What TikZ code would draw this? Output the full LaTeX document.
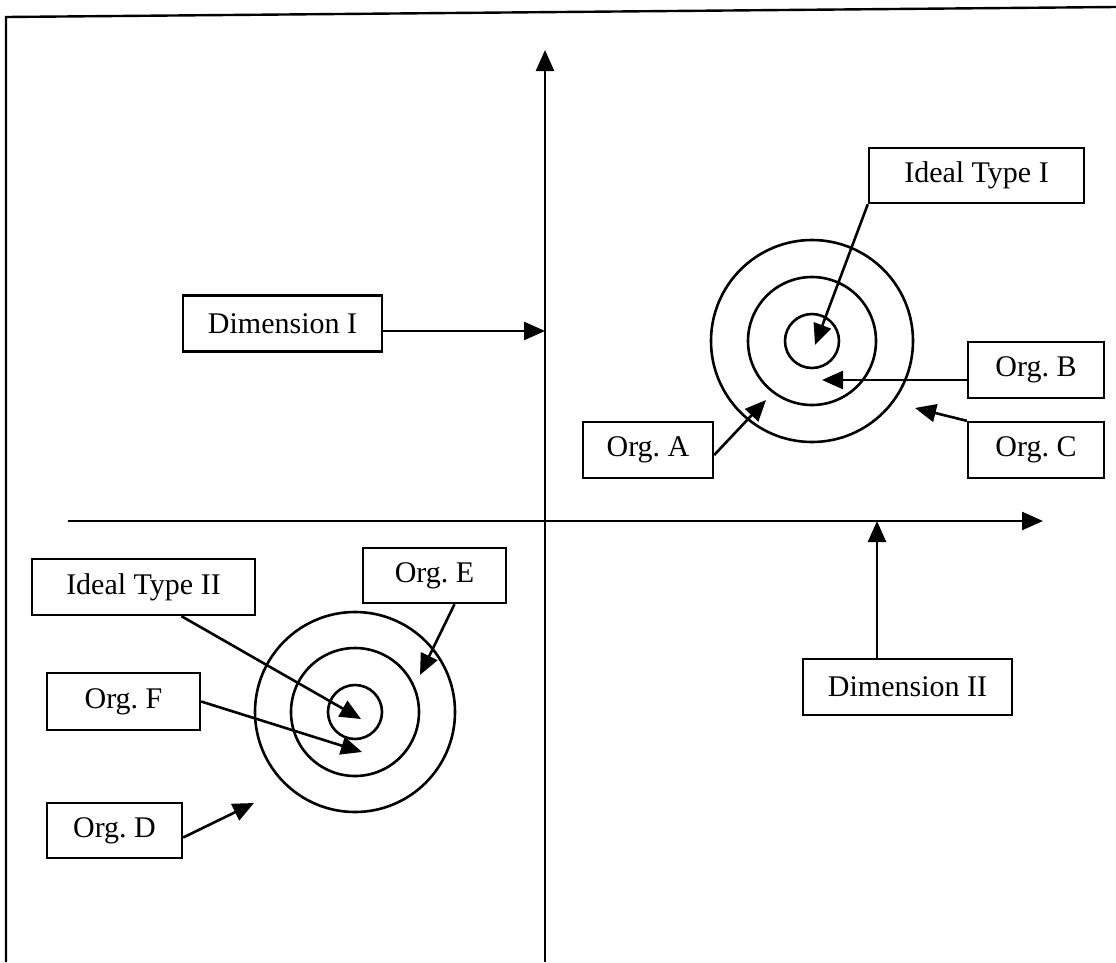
\documentclass[tikz,border=0pt]{standalone}
\usepackage{fontspec}
\setmainfont{Liberation Serif}
\usetikzlibrary{arrows.meta}

\tikzset{
  lbl/.style={draw, line width=2.4pt, inner sep=0pt, minimum height=56pt, font=\fontsize{30}{36}\selectfont},
  ring/.style={draw, circle, line width=2.6pt, inner sep=0pt},
  pointer/.style={line width=2.6pt, -{Triangle[length=21pt,width=18pt]}}
}

\begin{document}
\frenchspacing
\begin{tikzpicture}[x=1pt,y=-1pt]
   \useasboundingbox (0,0) rectangle (1116,962);
   % frame
   \draw[line width=2.4pt] (6,962) -- (6,17) -- (1116,7);

   % axes
   \coordinate (vbot) at (545,962);
   \coordinate (vtop) at (545,50);
   \coordinate (hleft) at (68,521);
   \coordinate (hright) at (1043,521);
   \draw[pointer] (vbot) -- (vtop);
   \draw[pointer] (hleft) -- (hright);

   % target of ideal type I
   \node[ring, minimum size=202pt] (outerI) at (812,341) {};
   \node[ring, minimum size=128pt] (midI) at (812,341) {};
   \node[ring, minimum size=54pt] (innerI) at (812,341) {};

   % target of ideal type II
   \node[ring, minimum size=200pt] (outerII) at (355,712) {};
   \node[ring, minimum size=128pt] (midII) at (355,712) {};
   \node[ring, minimum size=54pt] (innerII) at (355,712) {};

   % labels
   \node[lbl, minimum width=199pt] (dimI) at (282.5,323.5) {Dimension I};
   \node[lbl, minimum width=209pt] (dimII) at (907.5,687) {Dimension II};
   \node[lbl, minimum width=215pt, minimum height=55pt] (idealI) at (976.5,175.5) {Ideal Type I};
   \node[lbl, minimum width=136pt] (orgB) at (1036,370) {Org. B};
   \node[lbl, minimum width=136pt] (orgC) at (1036,450) {Org. C};
   \node[lbl, minimum width=130pt] (orgA) at (648,450) {Org. A};
   \node[lbl, minimum width=223pt] (idealII) at (143.5,587) {Ideal Type II};
   \node[lbl, minimum width=143pt, minimum height=55pt] (orgE) at (434.5,575.5) {Org. E};
   \node[lbl, minimum width=153pt, minimum height=57pt] (orgF) at (123.5,701.5) {Org. F};
   \node[lbl, minimum width=135pt, minimum height=55pt] (orgD) at (114.5,830.5) {Org. D};

   % arrow ends
   \coordinate (onI) at (545,331);
   \coordinate (onII) at (877,521);
   \coordinate (tipI) at (815,345);
   \coordinate (tipB) at (822,380);
   \coordinate (tipC) at (915,408);
   \coordinate (tipA) at (766,400);
   \coordinate (tipII) at (361,719);
   \coordinate (tipE) at (420,675);
   \coordinate (tipF) at (362,752);
   \coordinate (tipD) at (254,803);

   \draw[pointer] (dimI.east |- onI) -- (onI);
   \draw[pointer] (dimII.north -| onII) -- (onII);
   \draw[pointer] (idealI.south west) -- (tipI);
   \draw[pointer] (orgB.west |- tipB) -- (tipB);
   \draw[pointer] (orgC.north west) -- (tipC);
   \draw[pointer] ([yshift=-5pt]orgA.east) -- (tipA);
   \draw[pointer] ([xshift=38pt]idealII.south) -- (tipII);
   \draw[pointer] ([xshift=20pt]orgE.south) -- (tipE);
   \draw[pointer] (orgF.east) -- (tipF);
   \draw[pointer] ([yshift=-7pt]orgD.east) -- (tipD);
\end{tikzpicture}
\end{document}
